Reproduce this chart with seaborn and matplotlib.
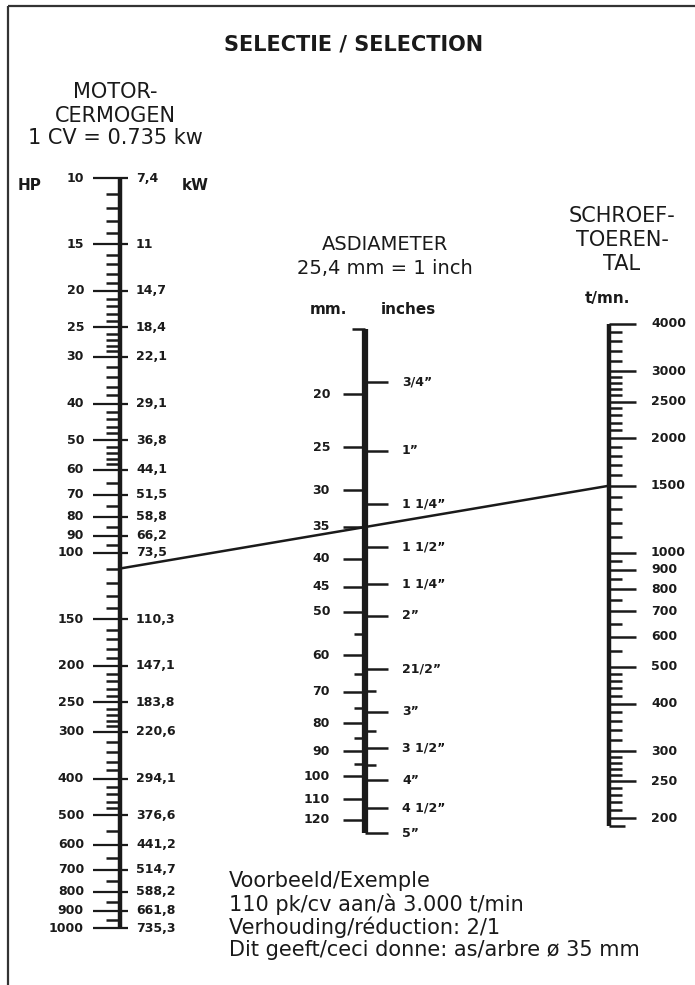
"""
Nomogram: shaft diameter selection from engine power and propeller rpm.
Three log scales (HP/kW, mm/inches, t/mn) with an example line.
"""

import matplotlib
matplotlib.use("Agg")
import matplotlib.pyplot as plt
from matplotlib.patches import ConnectionPatch
import seaborn as sns

# ------------------------------------------------------------------ #
#  Data                                                                #
# ------------------------------------------------------------------ #

HP_MAJOR = [10, 15, 20, 25, 30, 40, 50, 60, 70, 80, 90, 100, 150, 200,
            250, 300, 400, 500, 600, 700, 800, 900, 1000]
KW_LABELS = ['7,4', '11', '14,7', '18,4', '22,1', '29,1', '36,8', '44,1',
             '51,5', '58,8', '66,2', '73,5', '110,3', '147,1', '183,8',
             '220,6', '294,1', '376,6', '441,2', '514,7', '588,2', '661,8',
             '735,3']
HP_MINOR = [11, 12, 13, 14, 16, 17, 18, 19, 21, 22, 23, 24, 26, 27, 28, 29,
            32, 34, 36, 38, 42, 44, 46, 48, 52, 54, 56, 58, 65, 75, 85, 95,
            110, 120, 130, 140, 160, 170, 180, 190, 210, 220, 230, 240,
            260, 270, 280, 290, 320, 340, 360, 380, 420, 440, 460, 480,
            550, 650, 750, 850, 950]

MM_MAJOR = [20, 25, 30, 35, 40, 45, 50, 60, 70, 80, 90, 100, 110, 120]
MM_MINOR = [55, 65, 75, 85, 95]
INCH_VALUES = [0.75, 1, 1.25, 1.5, 1.75, 2, 2.5, 3, 3.5, 4, 4.5, 5]
INCH_LABELS = ['3/4”', '1”', '1 1/4”', '1 1/2”', '1 1/4”', '2”', '21/2”',
               '3”', '3 1/2”', '4”', '4 1/2”', '5”']
INCH_MINOR = [2.75, 3.25, 3.75]
MM_PER_INCH = 25.4
MM_RANGE = (15.2, 127)

RPM_MAJOR = [4000, 3000, 2500, 2000, 1500, 1000, 900, 800, 700, 600, 500,
             400, 300, 250, 200]
RPM_MINOR = [3800, 3600, 3400, 3200, 2900, 2800, 2700, 2600, 2400, 2300,
             2200, 2100, 1900, 1800, 1700, 1600, 1400, 1300, 1200, 1100,
             950, 850, 750, 650, 550, 480, 460, 440, 420, 380, 360, 340,
             320, 290, 280, 270, 260, 240, 230, 220, 210]
RPM_RANGE = (190, 4000)

# example: 110 hp at 3000 rpm, reduction 2/1 -> 1500 rpm
HP_EX = 110
RPM_EX = 1500

# ------------------------------------------------------------------ #
#  Layout (pixels)                                                     #
# ------------------------------------------------------------------ #

W, H = 695, 985
INK = '#1a1a1a'
HP_X, MM_X, RPM_X = 120, 365, 609

sns.set_theme(style='white')
plt.rcParams['font.family'] = ['DejaVu Sans']

fig = plt.figure(figsize=(W / 100, H / 100), dpi=100)
fig.patch.set_facecolor('white')


def log_scale_axes(ref_val, ref_px, decade_px, downward=True):
    """Full-figure transparent axes with a log y scale anchored at ref."""
    ax = fig.add_axes([0, 0, 1, 1])
    ax.set_xlim(0, W)
    ax.set_yscale('log')
    s = 1 if downward else -1
    v_at = lambda p: ref_val * 10 ** (s * (p - ref_px) / decade_px)
    ax.set_ylim(v_at(H), v_at(0))
    ax.set_axis_off()
    ax.patch.set_alpha(0)
    return ax


bg = fig.add_axes([0, 0, 1, 1])
bg.set_xlim(0, W)
bg.set_ylim(H, 0)
bg.set_axis_off()

# frame (top + left only)
bg.plot([8, W], [6, 6], color='#333333', lw=1.6, solid_capstyle='butt')
bg.plot([8, 8], [6, H], color='#333333', lw=1.6, solid_capstyle='butt')

# header texts
bg.text(354, 45, 'SELECTIE / SELECTION', ha='center', va='center',
        fontsize=15, fontweight='bold', color=INK)
for y, txt in [(92, 'MOTOR-'), (116, 'CERMOGEN'), (138, '1 CV = 0.735 kw')]:
    bg.text(115, y, txt, ha='center', va='center', fontsize=15, color=INK)
for y, txt in [(244, 'ASDIAMETER'), (268, '25,4 mm = 1 inch')]:
    bg.text(385, y, txt, ha='center', va='center', fontsize=14, color=INK)
for y, txt in [(216, 'SCHROEF-'), (240, 'TOEREN-'), (264, 'TAL')]:
    bg.text(622, y, txt, ha='center', va='center', fontsize=15, color=INK)

unit_kw = dict(va='center', fontsize=11, fontweight='bold', color=INK)
bg.text(18, 186, 'HP', ha='left', **unit_kw)
bg.text(182, 186, 'kW', ha='left', **unit_kw)
bg.text(328, 310, 'mm.', ha='center', **unit_kw)
bg.text(408, 310, 'inches', ha='center', **unit_kw)
bg.text(607, 298, 't/mn.', ha='center', **unit_kw)

# example text
for y, txt in [(881, 'Voorbeeld/Exemple'),
               (904, '110 pk/cv aan/à 3.000 t/min'),
               (927, 'Verhouding/réduction: 2/1'),
               (950, 'Dit geeft/ceci donne: as/arbre ø 35 mm')]:
    bg.text(229, y, txt, ha='left', va='center', fontsize=15, color=INK)

lab_kw = dict(va='center', fontsize=9, fontweight='bold', color=INK)

# ------------------------------------------------------------------ #
#  HP / kW scale                                                       #
# ------------------------------------------------------------------ #

ax_hp = log_scale_axes(10, 178, 375, downward=True)
ax_hp.vlines(HP_X, HP_MAJOR[0], HP_MAJOR[-1], color=INK, lw=3.2)
ax_hp.hlines(HP_MAJOR, 93, 128, color=INK, lw=1.6)
ax_hp.hlines(HP_MINOR, 106, HP_X, color=INK, lw=1.8)
for hp, kw in zip(HP_MAJOR, KW_LABELS):
    ax_hp.text(84, hp, str(hp), ha='right', **lab_kw)
    ax_hp.text(136, hp, kw, ha='left', **lab_kw)

# ------------------------------------------------------------------ #
#  Shaft diameter scale (mm / inches)                                  #
# ------------------------------------------------------------------ #

ax_mm = log_scale_axes(35, 527, 547, downward=True)
inch_mm = [v * MM_PER_INCH for v in INCH_VALUES]
inch_minor_mm = [v * MM_PER_INCH for v in INCH_MINOR]
ax_mm.vlines(MM_X, MM_RANGE[0], MM_RANGE[1], color=INK, lw=4.5)
ax_mm.hlines(MM_RANGE[0], 352, MM_X, color=INK, lw=1.8)
ax_mm.hlines(MM_MAJOR, 343, MM_X, color=INK, lw=1.8)
ax_mm.hlines(MM_MINOR, 354, MM_X, color=INK, lw=1.8)
ax_mm.hlines(inch_mm, MM_X, 388, color=INK, lw=1.8)
ax_mm.hlines(inch_minor_mm, MM_X, 376, color=INK, lw=1.8)
for mm in MM_MAJOR:
    ax_mm.text(330, mm, str(mm), ha='right', **lab_kw)
for mm, lab in zip(inch_mm, INCH_LABELS):
    ax_mm.text(402, mm, lab, ha='left', **lab_kw)

# ------------------------------------------------------------------ #
#  Propeller rpm scale                                                 #
# ------------------------------------------------------------------ #

ax_rpm = log_scale_axes(4000, 324, 379.7, downward=False)
ax_rpm.vlines(RPM_X, RPM_RANGE[0], RPM_RANGE[1], color=INK, lw=3.2)
ax_rpm.hlines(RPM_MAJOR, RPM_X, 636, color=INK, lw=1.8)
ax_rpm.hlines(RPM_MINOR, RPM_X, 622, color=INK, lw=1.8)
ax_rpm.hlines(RPM_RANGE[0], RPM_X, 625, color=INK, lw=1.8)
for rpm in RPM_MAJOR:
    ax_rpm.text(651, rpm, str(rpm), ha='left', **lab_kw)

# ------------------------------------------------------------------ #
#  Example line: 110 hp -> 1500 t/mn                                   #
# ------------------------------------------------------------------ #

con = ConnectionPatch(xyA=(HP_X, HP_EX), coordsA=ax_hp.transData,
                      xyB=(RPM_X, RPM_EX), coordsB=ax_rpm.transData,
                      color=INK, lw=1.8)
fig.add_artist(con)

fig.savefig('out.png', dpi=100, facecolor='white')
